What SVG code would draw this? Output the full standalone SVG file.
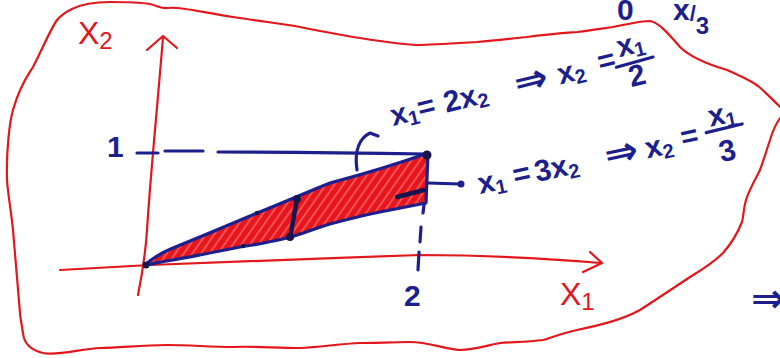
<svg xmlns="http://www.w3.org/2000/svg" width="780" height="358" viewBox="0 0 780 358">
<defs>
<style>
.red{fill:none;stroke:#e3161b;stroke-width:2.2;stroke-linecap:round;stroke-linejoin:round}
.blue{fill:none;stroke:#1d1f8c;stroke-width:3.2;stroke-linecap:round;stroke-linejoin:round}
.dark{fill:none;stroke:#15154f;stroke-width:4.5;stroke-linecap:round}
.bt{font-family:"Liberation Sans",Arial,sans-serif;font-weight:bold;fill:#1d1f8c;font-size:30px}
.sub{font-size:20px}
.arr{font-family:"DejaVu Sans",sans-serif;font-weight:bold;fill:#1d1f8c;font-size:40px}
.rt{font-family:"Liberation Sans",Arial,sans-serif;fill:#e3161b;font-size:32px}
</style>
<pattern id="hatch" width="7" height="7" patternUnits="userSpaceOnUse" patternTransform="rotate(-55)">
<rect width="7" height="7" fill="#e8161c"/>
<line x1="0" y1="2" x2="7" y2="2" stroke="#ffffff" stroke-opacity="0.4" stroke-width="1.3"/>
</pattern>
</defs>
<rect width="780" height="358" fill="#ffffff"/>

<g id="outline">
<path class="red" d="M7,180 C6,150 10,120 13,110 C20,85 28,75 33,67 C42,50 50,30 57,20 C62,14 66,12 72,9 C82,4 95,2 110,2 C125,2 138,2 150,4 C158,6 162,9 168,8 C178,6 200,12 233,17 C265,22 285,24 300,27 C325,32 340,35 360,38 C385,42 405,45 420,45 C445,44 460,43 477,42 C500,40 515,38 527,37 C550,34 565,33 577,32 C595,30 605,28 613,27 C628,24 640,21 650,21 C658,22 668,33 680,47 C688,55 700,62 727,70 C740,76 750,80 758,86 C768,94 775,103 786,112 C778,118 773,130 770,140 C766,152 763,162 760,170 C755,180 749,190 746,200 C743,210 744,215 742,222 C738,232 730,245 723,253 C715,261 705,268 690,277 C675,287 660,297 640,310 C622,320 600,325 577,330 C560,334 550,338 543,340 C528,342 512,342 500,343 C485,346 472,350 460,350 C445,349 428,342 410,342 C392,342 375,343 360,343 C340,344 320,347 300,348 C275,348 255,346 233,347 C210,347 190,345 167,345 C140,345 120,348 100,348 C80,349 58,356 43,353 C30,350 24,343 23,333 C21,320 20,316 20,313 C17,280 15,255 13,230 C11,210 8,195 7,180 Z"/>
</g>

<g id="axes">
<path class="red" d="M163,37 C158,100 150,180 147,230 C145,260 141,280 138,295"/>
<path class="red" d="M147,50 L163,36 L177,48"/>
<path class="red" d="M60,270 C100,268 130,266 150,265 C250,261 330,258 420,255 C480,255 540,258 601,263"/>
<path class="red" d="M590,252 L602,263 L583,272"/>
</g>

<g id="guides">
<path class="blue" d="M137,153 L158,153 M165,151 L203,151 M218,152 C300,152 370,153 427,154"/>
<path class="blue" d="M424,205 L423,213 M421,227 L420,242 M419,252 L418,270"/>
</g>

<g id="region">
<path d="M145,265 C155,256 163,252 173,248 L223,227 L257,213 L293,198 L330,183 L380,170 L428,153 L426,203 L380,212 L330,224 L287,238 L240,247 L173,260 Z" fill="url(#hatch)"/>
<path class="blue" stroke-width="3.6" d="M145,265 C155,256 163,252 173,248 C200,237 240,220 257,213 C280,204 305,193 330,183 C360,175 400,163 428,153 L426,203 C410,206 395,209 380,212 C360,216 345,220 330,224 C310,230 300,235 287,238 C270,242 255,245 240,247 C215,252 190,257 173,260 C160,262 152,264 145,265 Z"/>
<path class="dark" d="M397,197 L424,190" stroke-width="4"/>
<path class="dark" d="M297,199 L290,238"/>
<circle cx="297" cy="199" r="4" fill="#15154f"/>
<circle cx="290" cy="237" r="4" fill="#15154f"/>
<circle cx="427" cy="155" r="4.5" fill="#15154f"/>
<circle cx="146" cy="265" r="3.5" fill="#15154f"/>
<circle cx="257" cy="213" r="2.2" fill="#15154f"/>
<circle cx="243" cy="246" r="2.2" fill="#15154f"/>
</g>

<g id="connectors">
<path class="blue" d="M357,170 C354,150 360,138 370,133 L378,136"/>
<path class="blue" d="M428,183 L460,184"/>
<circle cx="461" cy="184" r="3.5" fill="#1d1f8c"/>
</g>

<g id="label-x2">
<text class="rt" x="78" y="44">X<tspan dy="5" font-size="24px">2</tspan></text>
</g>
<g id="label-x1">
<text class="rt" x="560" y="305">X<tspan dy="5" font-size="24px">1</tspan></text>
</g>
<g id="label-1">
<text class="bt" x="107" y="157" font-size="24px">1</text>
</g>
<g id="label-2">
<text class="bt" x="404" y="306">2</text>
</g>

<g id="eq-upper" transform="translate(393,126) rotate(-14)">
<text class="bt" x="0" y="0">x<tspan class="sub" dy="4">1</tspan></text>
<text class="bt" x="28" y="-1">=</text>
<text class="bt" x="55" y="0">2x<tspan class="sub" dy="4">2</tspan></text>
<text class="arr" x="128" y="2">⇒</text>
<text class="bt" x="172" y="0">x<tspan class="sub" dy="4">2</tspan></text>
<text class="bt" x="214" y="-2">=</text>
<text class="bt" x="250" y="-12" text-anchor="middle">x<tspan class="sub" dy="4">1</tspan></text>
<path class="blue" d="M231,-3 L269,-4"/>
<text class="bt" x="249" y="20" text-anchor="middle">2</text>
</g>

<g id="eq-lower" transform="translate(480,194) rotate(-12)">
<text class="bt" x="0" y="0">x<tspan class="sub" dy="4">1</tspan></text>
<text class="bt" x="36" y="-1">=</text>
<text class="bt" x="58" y="0">3x<tspan class="sub" dy="4">2</tspan></text>
<text class="arr" x="130" y="2">⇒</text>
<text class="bt" x="171" y="0">x<tspan class="sub" dy="4">2</tspan></text>
<text class="bt" x="208" y="-3">=</text>
<text class="bt" x="253" y="-18" text-anchor="middle">x<tspan class="sub" dy="4">1</tspan></text>
<path class="blue" d="M234,-13 L271,-14"/>
<text class="bt" x="251" y="19" text-anchor="middle">3</text>
</g>

<g id="top-notes">
<text class="bt" x="617" y="20" font-size="19px">0</text>
<text class="bt" x="673" y="20" font-size="18px">x<tspan dy="1" font-size="22px">/</tspan><tspan dy="13" font-size="24px">3</tspan></text>
</g>
<g id="edge-note">
<text class="arr" x="751" y="312" font-size="26px">⇒</text>
</g>
</svg>
